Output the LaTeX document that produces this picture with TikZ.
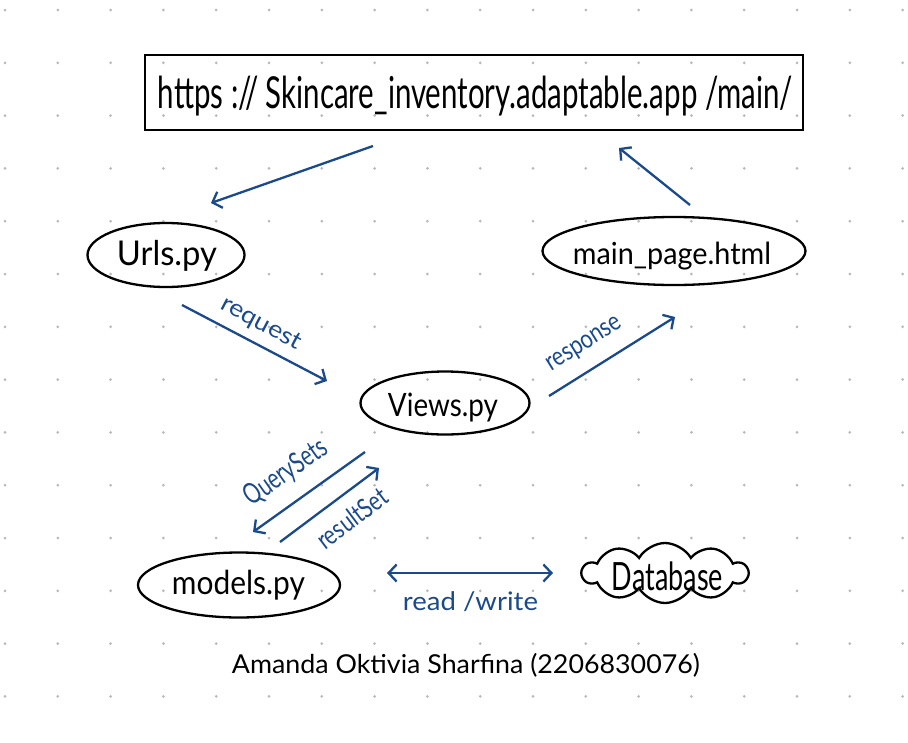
\documentclass[tikz,border=0pt]{standalone}
\usepackage{fontspec}
\usepackage{graphicx}
\setmainfont{Lato}
\usetikzlibrary{shapes.geometric,shapes.symbols,arrows.meta}
\definecolor{penblue}{RGB}{26,74,140}
\definecolor{dotgray}{RGB}{185,185,185}
\newcommand{\fitto}[3]{\resizebox*{#1pt}{#2pt}{#3}}
\begin{document}
\begin{tikzpicture}[x=1pt,y=-1pt,
  oval/.style={ellipse,draw,line width=2.3pt,inner sep=0pt},
  flow/.style={draw=penblue,line width=2.3pt,-{Straight Barb[length=8pt,width=17pt]}},
  bothflow/.style={draw=penblue,line width=2.3pt,{Straight Barb[length=8pt,width=17pt]}-{Straight Barb[length=8pt,width=17pt]}},
  lbl/.style={inner sep=0pt,text=penblue},
  txt/.style={inner sep=0pt}]
\useasboundingbox (0,0) rectangle (908,742);
\fill[white] (0,0) rectangle (908,742);
\foreach \i in {0,...,17} \foreach \j in {0,...,13}
  \fill[dotgray] ({5+52.8*\i},{10+52.8*\j}) circle (1.5pt);
% URL box
\node[draw,line width=2.3pt,minimum width=658pt,minimum height=75pt,inner sep=0pt] (url) at (474,92.5) {};
\node[txt] (urltxt) at (475.5,96) {\fitto{635}{40}{https :// Skincare\_inventory.adaptable.app /main/}};
% nodes
\node[oval,minimum width=157pt,minimum height=64pt] (urls) at (166,255) {};
\node[txt] (urlstxt) at (167,255.5) {\fitto{100}{31}{Urls.py}};
\node[oval,minimum width=263pt,minimum height=68pt] (mainp) at (674,251) {};
\node[txt] (mainptxt) at (672,256) {\fitto{198}{28}{main\_page.html}};
\node[oval,minimum width=169pt,minimum height=63pt] (views) at (445,403) {};
\node[txt] (viewstxt) at (443,407.5) {\fitto{110}{29}{Views.py}};
\node[oval,minimum width=202pt,minimum height=65pt] (models) at (239,585) {};
\node[txt] (modelstxt) at (238.5,585) {\fitto{133}{30}{models.py}};
\node[cloud,draw,line width=2.3pt,cloud puffs=10,cloud puff arc=120,aspect=2.75,minimum width=165pt,minimum height=60pt,inner sep=0pt] (db) at (665,573) {};
\node[txt] (dbtxt) at (667.5,576) {\fitto{111}{29}{Database}};
% connector end points
\coordinate (a1s) at (373,146);
\coordinate (a1e) at (211,203);
\coordinate (a2s) at (690,205);
\coordinate (a2e) at (619,148);
\coordinate (rqs) at (182,305);
\coordinate (rqe) at (327,381);
\coordinate (rps) at (549,396);
\coordinate (rpe) at (675,317);
\coordinate (qss) at (365,452);
\coordinate (qse) at (253,532);
\coordinate (rss) at (280,542);
\coordinate (rse) at (379,468);
\coordinate (rws) at (387,573);
\coordinate (rwe) at (553,573);
\draw[flow] (a1s) -- (a1e);
\draw[flow] (a2s) -- (a2e);
\draw[flow] (rqs) -- (rqe);
\draw[flow] (rps) -- (rpe);
\draw[flow] (qss) -- (qse);
\draw[flow] (rss) -- (rse);
\draw[bothflow] (rws) -- (rwe);
% labels
\node[lbl,rotate=-28] (lreq) at (261,324) {\fitto{88}{20}{request}};
\node[lbl,rotate=32] (lresp) at (585,345) {\fitto{85}{18}{response}};
\node[lbl,rotate=35] (lqs) at (286,473) {\fitto{95}{26}{QuerySets}};
\node[lbl,rotate=37] (lrs) at (352,518) {\fitto{82}{20}{resultSet}};
\node[lbl] (lrw) at (470.5,602) {\fitto{135}{20}{read /write}};
% footer
\node[txt] (author) at (466,665) {\fitto{468}{24}{Amanda Oktivia Sharfina (2206830076)}};
\end{tikzpicture}
\end{document}
